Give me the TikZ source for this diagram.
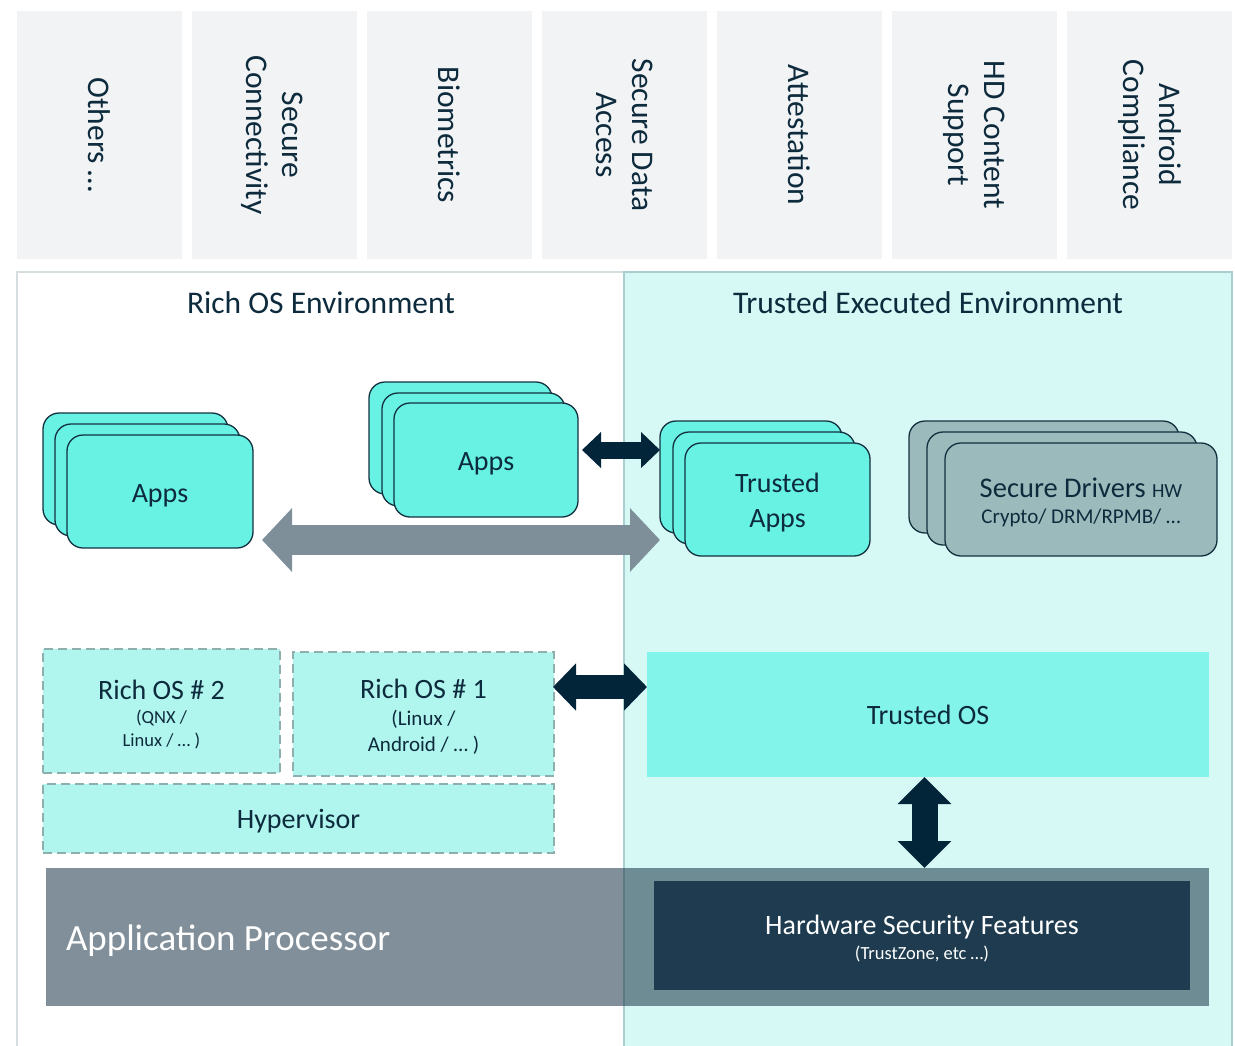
\documentclass[tikz,border=0pt]{standalone}
\usepackage{fontspec}
\setmainfont{Carlito}
\usetikzlibrary{arrows.meta}
\definecolor{txt}{HTML}{0D2B3D}
\definecolor{topfill}{HTML}{F2F3F5}
\definecolor{teefill}{HTML}{D6F9F6}
\definecolor{teeline}{HTML}{A9CFD0}
\definecolor{envline}{HTML}{D6DDE0}
\definecolor{appfill}{HTML}{67F2E4}
\definecolor{appline}{HTML}{14303F}
\definecolor{sdfill}{HTML}{9BBABB}
\definecolor{richfill}{HTML}{B0F6EE}
\definecolor{richline}{HTML}{8DB0AE}
\definecolor{tosfill}{HTML}{83F4E9}
\definecolor{greyarrow}{HTML}{7F8F99}
\definecolor{darkarrow}{HTML}{03253A}
\definecolor{hsffill}{HTML}{1E3B4F}
\definecolor{apbase}{HTML}{1D3749}
\begin{document}
\begin{tikzpicture}[x=1pt,y=-1pt,
  every node/.style={text=txt, inner sep=0pt, outer sep=0pt},
  bigfont/.style={font=\fontsize{31.5}{36}\selectfont},
  midfont/.style={font=\fontsize{28}{35}\selectfont},
  topbox/.style={fill=topfill, minimum width=165pt, minimum height=248pt},
  toplabel/.style={bigfont, rotate=-90, align=center},
  appbox/.style={draw=appline, line width=1.3pt, fill=appfill, rounded corners=16pt},
  sdbox/.style={draw=appline, line width=1.3pt, fill=sdfill, rounded corners=16pt},
  richbox/.style={draw=richline, line width=1.6pt, fill=richfill, dash pattern=on 9pt off 5pt},
  darrow/.style={draw=darkarrow, line width=#1},
  garrow/.style={draw=greyarrow, line width=30pt, {Triangle[length=30pt,width=62pt]}-{Triangle[length=30pt,width=62pt]}}
]
\useasboundingbox (0,0) rectangle (1235,1045);
% top feature boxes
\node[topbox] (t1) at (99.5,135) {};
\node[topbox] (t2) at (274.5,135) {};
\node[topbox] (t3) at (449.5,135) {};
\node[topbox] (t4) at (624.5,135) {};
\node[topbox] (t5) at (799.5,135) {};
\node[topbox] (t6) at (974.5,135) {};
\node[topbox] (t7) at (1149.5,135) {};
\node[toplabel] (l1) at (t1) {Others …};
\node[toplabel] (l2) at ([xshift=-2pt]t2.center) {Secure\\Connectivity};
\node[toplabel] (l3) at (t3) {Biometrics};
\node[toplabel] (l4) at (t4) {Secure Data\\Access};
\node[toplabel] (l5) at (t5) {Attestation};
\node[toplabel] (l6) at (t6) {HD Content\\Support};
\node[toplabel] (l7) at (t7) {Android\\Compliance};
% environments
\node[draw=envline, line width=2pt, minimum width=607pt, minimum height=790pt] (ree) at (320.5,667) {};
\node[draw=teeline, fill=teefill, line width=2pt, minimum width=608pt, minimum height=790pt] (tee) at (928,667) {};
\node[bigfont] (reet) at (321,303) {Rich OS Environment};
\node[bigfont] (teet) at (928,303) {Trusted Executed Environment};
% left apps
\node[appbox, minimum width=185pt, minimum height=112pt] (a1c) at (135.5,469) {};
\node[appbox, minimum width=185pt, minimum height=112pt] (a1b) at (147.5,480) {};
\node[appbox, minimum width=186pt, minimum height=113pt] (a1a) at (160,491.5) {};
\node[midfont] (a1t) at ([yshift=-4pt]a1a.center) {Apps};
% upper apps
\node[appbox, minimum width=183pt, minimum height=112pt] (a2c) at (460.5,438) {};
\node[appbox, minimum width=183pt, minimum height=113pt] (a2b) at (473.5,449.5) {};
\node[appbox, minimum width=184pt, minimum height=114pt] (a2a) at (486,460) {};
\node[midfont] (a2t) at ([yshift=-4pt]a2a.center) {Apps};
% trusted apps
\node[appbox, minimum width=182pt, minimum height=112pt] (ta3) at (751,477) {};
\node[appbox, minimum width=182pt, minimum height=112pt] (ta2) at (764,488) {};
\node[appbox, minimum width=185pt, minimum height=113pt] (ta1) at (777.5,499.5) {};
\node[midfont, align=center] (tat) at ([yshift=-3pt]ta1.center) {Trusted\\Apps};
% secure drivers
\node[sdbox, minimum width=270pt, minimum height=112pt] (sd3) at (1044,477) {};
\node[sdbox, minimum width=270pt, minimum height=113pt] (sd2) at (1062,488.5) {};
\node[sdbox, minimum width=272pt, minimum height=113pt] (sd1) at (1081,499.5) {};
\node[align=center, font=\fontsize{21}{26.4}\selectfont] (sdt) at ([yshift=-3pt]sd1.center)
  {{\fontsize{28.5}{30}\selectfont Secure Drivers {\fontsize{20}{24}\selectfont HW}}\\Crypto/ DRM/RPMB/ …};
% arrows upper
\draw[darrow=17pt, {Triangle[length=19pt,width=35pt]}-{Triangle[length=19pt,width=35pt]}]
  ([shift={(4pt,10pt)}]a2a.east) -- ([yshift=27pt]ta3.west);
\draw[garrow] ([shift={(9pt,-48.5pt)}]a1a.east) -- ([yshift=-63pt]ta3.west);
% rich OS boxes
\node[richbox, minimum width=237pt, minimum height=124pt] (r2) at (161.5,711) {};
\node[align=center, font=\fontsize{18.5}{23}\selectfont] (r2t) at ([yshift=-4pt]r2.center)
  {{\fontsize{28}{30}\selectfont Rich OS \# 2}\\[1pt](QNX /\\Linux / … )};
\node[richbox, minimum width=261pt, minimum height=124pt] (r1) at (423.5,714) {};
\node[align=center, font=\fontsize{21}{26}\selectfont] (r1t) at ([yshift=-3pt]r1.center)
  {{\fontsize{28}{30}\selectfont Rich OS \# 1}\\[1pt](Linux /\\Android / … )};
\node[richbox, minimum width=511pt, minimum height=69pt] (hyp) at (298.5,818.5) {};
\node[midfont] (hypt) at ([yshift=-3pt]hyp.center) {Hypervisor};
% trusted OS
\node[fill=tosfill, minimum width=562pt, minimum height=125pt, midfont] (tos) at (928,714.5) {Trusted OS};
\draw[darrow=24pt, {Triangle[length=23pt,width=46pt]}-{Triangle[length=23pt,width=46pt]}]
  ([shift={(-1pt,27pt)}]r1.east) -- ([yshift=27.5pt]tos.west);
% application processor
\node[fill=apbase, fill opacity=0.56, minimum width=1163pt, minimum height=138pt] (ap) at (627.5,937) {};
\node[anchor=west, text=white, font=\fontsize{37}{40}\selectfont] (apt) at (66,941) {Application Processor};
\node[fill=hsffill, minimum width=536pt, minimum height=109pt] (hsf) at (922,935.5) {};
\node[text=white, align=center, font=\fontsize{18.5}{25}\selectfont] (hsft) at ([yshift=-3.5pt]hsf.center)
  {{\fontsize{28}{30}\selectfont Hardware Security Features}\\(TrustZone, etc …)};
\draw[darrow=26pt, {Triangle[length=27pt,width=52pt]}-{Triangle[length=27pt,width=52pt]}]
  ([xshift=-3.5pt]tos.south) -- ([xshift=-3.5pt]tos.south |- ap.north);
\end{tikzpicture}
\end{document}
